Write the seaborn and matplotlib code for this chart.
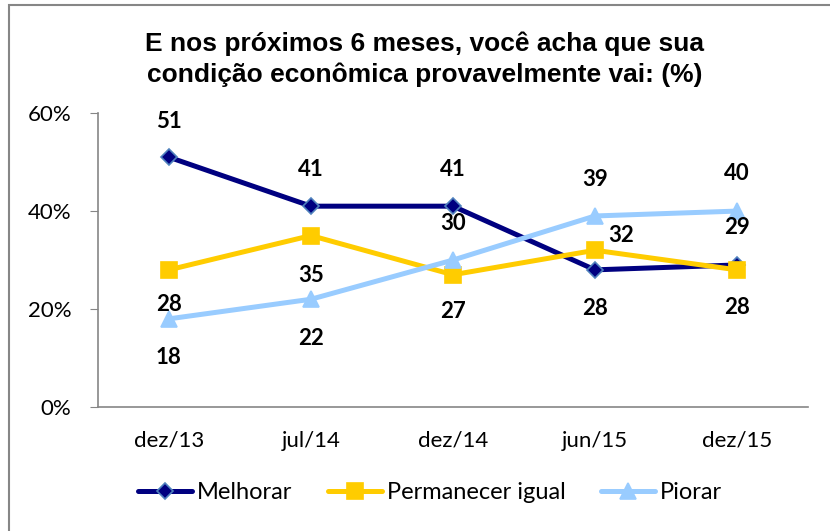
import numpy as np
import pandas as pd
import matplotlib.pyplot as plt
import seaborn as sns
from matplotlib.patches import Rectangle
from matplotlib.lines import Line2D

# dados
periodos = ['dez/13', 'jul/14', 'dez/14', 'jun/15', 'dez/15']
melhorar = [51, 41, 41, 28, 29]
permanecer = [28, 35, 27, 32, 28]
piorar = [18, 22, 30, 39, 40]
series = ['Melhorar', 'Permanecer igual', 'Piorar']

# deslocamento dos rotulos (pixels)
offs = {
    'Melhorar': [(0, 36), (0, 37), (0, 37), (0, -39), (0, 37)],
    'Permanecer igual': [(0, -35), (0, -40), (0, -37), (26, 15), (0, -38)],
    'Piorar': [(0, -39), (0, -39), (0, 37), (0, 36), (0, 38)],
}
cores = {'Melhorar': '#000080', 'Permanecer igual': '#FFCC00', 'Piorar': '#99CCFF'}
marc = {'Melhorar': 'D', 'Permanecer igual': 's', 'Piorar': '^'}
borda = {'Melhorar': '#4F81BD', 'Permanecer igual': '#FFCC00', 'Piorar': '#99CCFF'}
tam = {'Melhorar': 8, 'Permanecer igual': 11, 'Piorar': 11}

df = pd.DataFrame({'periodo': periodos * 3,
                   'serie': np.repeat(series, len(periodos)),
                   'valor': melhorar + permanecer + piorar})

sns.set_style('white')
plt.rcParams['font.family'] = ['Lato', 'DejaVu Sans']
plt.rcParams['text.color'] = 'black'
plt.rcParams['xtick.labelcolor'] = 'black'
plt.rcParams['ytick.labelcolor'] = 'black'

fig = plt.figure(figsize=(8.3, 5.31), dpi=100)
ax = fig.add_axes([0.118, 0.2335, 0.8555, 0.5535])

for s in series:
    d = df[df['serie'] == s]
    sns.lineplot(data=d, x='periodo', y='valor', ax=ax, color=cores[s], linewidth=3.6,
                 marker=marc[s], markersize=tam[s], markeredgecolor=borda[s],
                 markeredgewidth=1.2, sort=False, legend=False)
    for i, v in enumerate(d['valor']):
        ax.annotate(str(v), (i, v), xytext=offs[s][i], textcoords='offset pixels',
                    ha='center', va='center', fontsize=16, fontweight='bold', color='black')

ax.set_xlim(-0.5, 4.5)
ax.set_ylim(0, 60)
ax.set_yticks([0, 20, 40, 60])
ax.set_yticklabels(['0%', '20%', '40%', '60%'], fontsize=16)
ax.set_xticks(range(5))
ax.set_xticklabels(periodos, fontsize=16)
ax.set_xticks(np.arange(-0.5, 5, 1), minor=True)
ax.tick_params(axis='x', which='major', length=0, pad=17, labelcolor='black')
ax.tick_params(axis='x', which='minor', length=6, color='#868686', direction='out')
ax.tick_params(axis='y', length=6, color='#868686', direction='out', left=True, pad=13,
               labelcolor='black')
ax.set_xlabel('')
ax.set_ylabel('')
for sp in ['top', 'right']:
    ax.spines[sp].set_visible(False)
for sp in ['left', 'bottom']:
    ax.spines[sp].set_color('#868686')
    ax.spines[sp].set_linewidth(1.2)

fig.text(0.512, 0.888, 'E nos próximos 6 meses, você acha que sua\ncondição econômica provavelmente vai: (%)',
         ha='center', va='center', fontsize=19, fontweight='bold', color='black',
         family=['Liberation Sans', 'DejaVu Sans'], linespacing=1.35)

handles = [Line2D([], [], color=cores[s], linewidth=3.6, marker=marc[s], markersize=tam[s],
                  markeredgecolor=borda[s], markeredgewidth=1.2) for s in series]
leg = fig.legend(handles, series, loc='center', bbox_to_anchor=(0.518, 0.072), ncol=3, frameon=False,
                 fontsize=17, handlelength=2.3, handletextpad=0.2, columnspacing=1.5)
for t in leg.get_texts():
    t.set_color('black')

fig.patches.append(Rectangle((0.011, -0.05), 1.1, 1.0406, transform=fig.transFigure,
                             fill=False, edgecolor='#868686', linewidth=1.5))

fig.savefig('out.png', dpi=100)
